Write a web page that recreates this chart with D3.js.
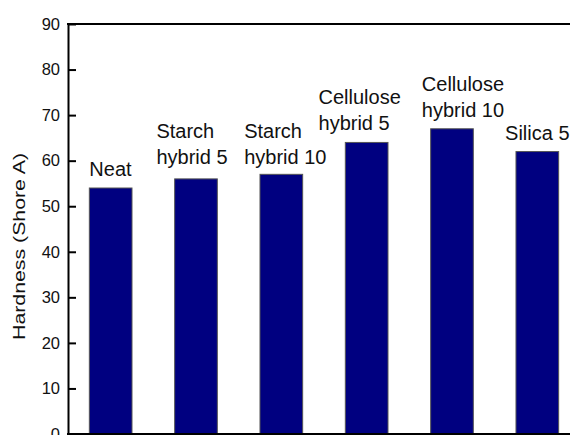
<!DOCTYPE html>
<html>
<head>
<meta charset="utf-8">
<script src="https://cdn.jsdelivr.net/npm/d3@7"></script>
<style>
  html, body { margin: 0; padding: 0; background: #fff; }
  svg { display: block; font-family: "Liberation Sans", Arial, sans-serif; }
</style>
</head>
<body>
<svg id="chart" width="570" height="435"></svg>
<script>
// Hardness of the neat and filled samples
const categories = ["Neat", "Starch hybrid 5", "Starch hybrid 10", "Cellulose hybrid 5", "Cellulose hybrid 10", "Silica 5"];
const labelLines = [["Neat"], ["Starch", "hybrid 5"], ["Starch", "hybrid 10"], ["Cellulose", "hybrid 5"], ["Cellulose", "hybrid 10"], ["Silica 5"]];
const hardness = [54, 56, 57, 64, 67, 62];
const yTicks = [0, 10, 20, 30, 40, 50, 60, 70, 80, 90];
const yTitle = "Hardness (Shore A)";

// Small hand placement tweaks for the bar captions
const captionShift = [[0, 0], [-4, -3], [4, 2], [-7, 0], [11, 0], [0, 0]];

const svg = d3.select("#chart");
const plotLeft = 68, plotTop = 24, plotBottom = 434;

const x = d3.scaleBand()
  .domain(categories)
  .range([plotLeft, plotLeft + 6 * 85.33])
  .paddingInner(0.5)
  .paddingOuter(0.25);

const y = d3.scaleLinear().domain([0, 90]).range([plotBottom, plotTop]);

// Bars
svg.append("g").selectAll("rect")
  .data(categories)
  .join("rect")
  .attr("x", d => x(d))
  .attr("y", (d, i) => y(hardness[i]))
  .attr("width", x.bandwidth())
  .attr("height", (d, i) => y(0) - y(hardness[i]))
  .attr("fill", "#000080")
  .attr("stroke", "#555")
  .attr("stroke-width", 1);

// Y axis with inward ticks
const yAxis = svg.append("g")
  .attr("transform", `translate(${plotLeft},0)`)
  .call(d3.axisLeft(y).tickValues(yTicks).tickSize(-8).tickSizeOuter(0).tickPadding(8));
yAxis.select(".domain").attr("stroke", "#000").attr("stroke-width", 2);
yAxis.selectAll(".tick line").attr("stroke", "#000").attr("stroke-width", 2);
yAxis.selectAll(".tick text")
  .attr("font-size", 16.5)
  .attr("fill", "#111")
  .attr("font-family", "Liberation Sans, Arial, sans-serif");

// Frame top and bottom lines
svg.append("line")
  .attr("x1", plotLeft - 1).attr("x2", 570)
  .attr("y1", plotTop).attr("y2", plotTop)
  .attr("stroke", "#000").attr("stroke-width", 2);
svg.append("line")
  .attr("x1", plotLeft - 1).attr("x2", 570)
  .attr("y1", plotBottom).attr("y2", plotBottom)
  .attr("stroke", "#000").attr("stroke-width", 2);

// Y axis title
svg.append("text")
  .attr("transform", `translate(25,${(153 + 340) / 2}) rotate(-90)`)
  .attr("text-anchor", "middle")
  .attr("font-size", 17)
  .attr("textLength", 187)
  .attr("lengthAdjust", "spacingAndGlyphs")
  .attr("fill", "#111")
  .text(yTitle);

// Captions above bars: left-aligned lines, block centred on the bar
const lineGap = 26;
categories.forEach((c, i) => {
  const lines = labelLines[i];
  const g = svg.append("g");
  const t = g.append("text")
    .attr("font-size", 20)
    .attr("fill", "#111");
  lines.forEach((ln, k) => {
    t.append("tspan")
      .attr("x", 0)
      .attr("y", -(lines.length - 1 - k) * lineGap)
      .text(ln);
  });
  const w = t.node().getBBox().width;
  const cx = x(c) + x.bandwidth() / 2 + captionShift[i][0];
  const by = y(hardness[i]) - 12 + captionShift[i][1];
  g.attr("transform", `translate(${cx - w / 2},${by})`);
});
</script>
</body>
</html>
